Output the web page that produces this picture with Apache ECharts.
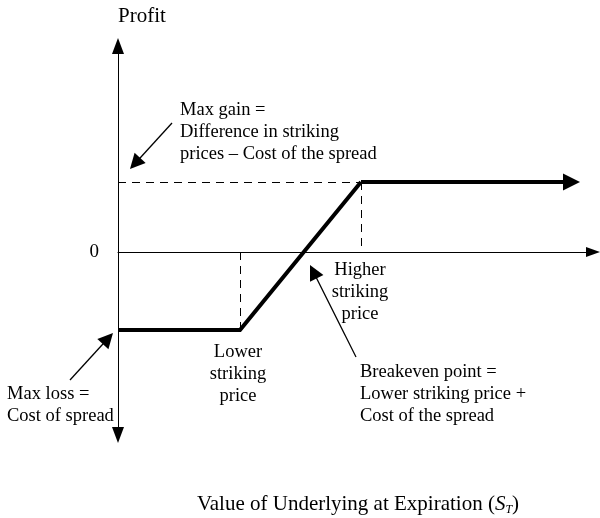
<!DOCTYPE html>
<html>
<head>
<meta charset="utf-8">
<script src="https://cdn.jsdelivr.net/npm/echarts@6/dist/echarts.min.js"></script>
<style>
  html, body { margin: 0; padding: 0; background: #fff; }
  #chart { width: 600px; height: 518px; }
</style>
</head>
<body>
<div id="chart"></div>
<script>
// bull spread payoff (arbitrary units)
const lowerStrike = 122
const higherStrike = 243
const xEnd = 462
const maxLoss = -78
const maxGain = 70

const payoff = [[0, maxLoss], [lowerStrike, maxLoss], [higherStrike, maxGain], [xEnd, maxGain]]

// dashed helper lines
const guides = [
    [[0, maxGain], [higherStrike, maxGain]],
    [[higherStrike, maxGain], [higherStrike, 0]],
    [[lowerStrike, 0], [lowerStrike, maxLoss]]
]

// callout arrows, [tail, head]
const callouts = [
    [[54, 129], [12, 83]],      // max gain
    [[-48, -128], [-5, -81]],   // max loss
    [[238, -105], [192, -13]]   // breakeven
]

const font = 'Liberation Serif'

// lines series puts the arrow symbol centred on the end point,
// so move the end back by half the head length (1 unit = 1px here)
let headAt = (seg, len) => {
    let [a, b] = seg
    let dx = b[0] - a[0], dy = b[1] - a[1]
    let l = Math.hypot(dx, dy)
    return [a, [b[0] - dx / l * len / 2, b[1] - dy / l * len / 2]]
}

let chart = echarts.init(document.getElementById('chart'))

let note = (x, y, text, align) => ({
    type: 'text',
    x: x,
    y: y,
    silent: true,
    style: {
        text: text,
        font: '18.5px "' + font + '"',
        lineHeight: 22,
        fill: '#000',
        align: align || 'left',
        verticalAlign: 'top'
    }
})

let option = {
    animation: false,
    grid: { left: 118, right: 7, top: 46, bottom: 83, containLabel: false },
    xAxis: {
        type: 'value',
        min: 0,
        max: 475,
        axisLine: {
            onZero: true,
            symbol: ['none', 'triangle'],
            symbolSize: [10, 14],
            lineStyle: { color: '#000', width: 1 }
        },
        axisTick: { show: false },
        axisLabel: { show: false },
        splitLine: { show: false }
    },
    yAxis: {
        type: 'value',
        min: -183,
        max: 206,
        interval: 183,
        name: 'Profit',
        nameLocation: 'end',
        nameGap: 19,
        nameTextStyle: { fontFamily: font, fontSize: 21, color: '#000', align: 'left' },
        axisLine: {
            onZero: false,
            symbol: ['triangle', 'triangle'],
            symbolSize: [12, 16],
            lineStyle: { color: '#000', width: 1 }
        },
        axisTick: { show: false },
        axisLabel: {
            fontFamily: font,
            fontSize: 19,
            color: '#000',
            margin: 19,
            formatter: (v) => v === 0 ? '0' : ''
        },
        splitLine: { show: false }
    },
    series: [
        {
            type: 'lines',
            coordinateSystem: 'cartesian2d',
            silent: true,
            clip: false,
            symbol: 'none',
            lineStyle: { color: '#000', width: 1, type: [8, 6], opacity: 1 },
            data: guides.map(c => ({ coords: c }))
        },
        {
            type: 'line',
            silent: true,
            symbol: 'none',
            clip: false,
            lineStyle: { color: '#000', width: 4, join: 'miter' },
            data: payoff.slice(0, -1),
            z: 5
        },
        {
            // last flat piece of the payoff with its arrowhead
            type: 'lines',
            coordinateSystem: 'cartesian2d',
            silent: true,
            clip: false,
            symbol: ['none', 'triangle'],
            symbolSize: [19, 17],
            lineStyle: { color: '#000', width: 4, opacity: 1 },
            data: [{ coords: headAt(payoff.slice(-2), 17) }],
            z: 6
        },
        {
            type: 'lines',
            coordinateSystem: 'cartesian2d',
            silent: true,
            clip: false,
            symbol: ['none', 'triangle'],
            symbolSize: [12, 15],
            lineStyle: { color: '#000', width: 1.3, opacity: 1 },
            data: callouts.map(c => ({ coords: headAt(c, 15) }))
        }
    ],
    graphic: [
        note(180, 99, 'Max gain =\nDifference in striking\nprices \u2013 Cost of the spread'),
        note(360, 259, 'Higher\nstriking\nprice', 'center'),
        note(238, 341, 'Lower\nstriking\nprice', 'center'),
        note(360, 361, 'Breakeven point =\nLower striking price +\nCost of the spread'),
        note(7, 383, 'Max loss =\nCost of spread'),
        {
            type: 'text',
            x: 358,
            y: 504,
            silent: true,
            style: {
                text: '{n|Value of Underlying at Expiration (}{i|S}{s|T}{n|)}',
                align: 'center',
                verticalAlign: 'middle',
                fill: '#000',
                rich: {
                    n: { fontFamily: font, fontSize: 21, lineHeight: 24 },
                    i: { fontFamily: font, fontSize: 21, fontStyle: 'italic', lineHeight: 24 },
                    s: { fontFamily: font, fontSize: 12, fontStyle: 'italic', lineHeight: 12, verticalAlign: 'bottom' }
                }
            }
        }
    ]
}

chart.setOption(option)
</script>
</body>
</html>
